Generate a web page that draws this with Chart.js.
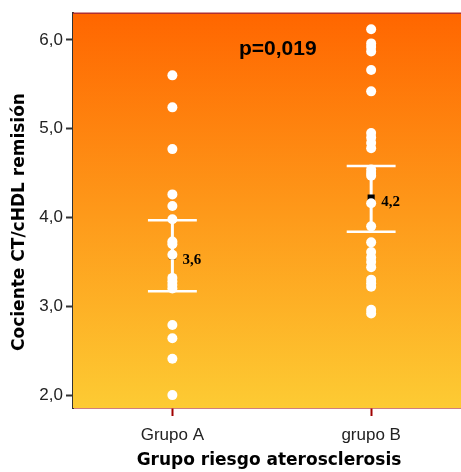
<!DOCTYPE html>
<html>
<head>
<meta charset="utf-8">
<script src="https://cdn.jsdelivr.net/npm/chart.js@4"></script>
<style>
  body { margin: 0; background: #fff; }
  canvas { display: block; }
</style>
</head>
<body>
<canvas id="ratioChart" width="461" height="472"></canvas>
<script>
const ctx = document.getElementById("ratioChart").getContext("2d");

// Individual CT/cHDL values per group
const categories = ['Grupo A', 'grupo B'];
const groupA = [5.60, 5.24, 4.77, 4.26, 4.13, 3.98, 3.73, 3.70, 3.58, 3.32, 3.28, 3.24, 3.20, 2.79, 2.64, 2.41, 2.00];
const groupB = [6.12, 5.96, 5.92, 5.87, 5.66, 5.42, 4.95, 4.90, 4.84, 4.78, 4.54, 4.50, 4.47, 4.16, 3.90, 3.72, 3.61, 3.55, 3.50, 3.44, 3.30, 3.26, 3.22, 2.96, 2.92];

// Mean and 95% CI per group
const means = [3.57, 4.22];
const ciLow = [3.17, 3.84];
const ciHigh = [3.97, 4.58];

const yTicks = [2, 3, 4, 5, 6];
const pValueText = 'p=0,019';
const xTitle = 'Grupo riesgo aterosclerosis';
const yTitle = 'Cociente CT/cHDL remisión';

const capHalf = 0.123;
const fmt = v => v.toFixed(1).replace('.', ',');

const pointData = [];
groupA.forEach(v => pointData.push({ x: 1, y: v }));
groupB.forEach(v => pointData.push({ x: 2, y: v }));

const errorSets = [];
means.forEach((m, i) => {
    const x = i + 1;
    const segs = [
        [{ x: x, y: ciLow[i] }, { x: x, y: ciHigh[i] }],
        [{ x: x - capHalf, y: ciHigh[i] }, { x: x + capHalf, y: ciHigh[i] }],
        [{ x: x - capHalf, y: ciLow[i] }, { x: x + capHalf, y: ciLow[i] }]
    ];
    segs.forEach((seg, k) => {
        errorSets.push({
            type: 'line',
            data: seg,
            borderColor: '#ffffff',
            borderWidth: k === 0 ? 3 : 2.5,
            pointRadius: 0,
            fill: false,
            order: 3
        });
    });
});

// gradient background, top frame line, titles and labels
const decorations = {
    id: 'decorations',
    beforeDatasetsDraw(chart) {
        const { ctx, chartArea: a } = chart;
        const g = ctx.createLinearGradient(0, a.top, 0, a.bottom);
        g.addColorStop(0, '#ff6600');
        g.addColorStop(1, '#fdcb33');
        ctx.save();
        ctx.fillStyle = g;
        ctx.fillRect(a.left, a.top, a.right - a.left, a.bottom - a.top);
        ctx.restore();
    },
    afterDraw(chart) {
        const { ctx, chartArea: a, scales } = chart;
        ctx.save();
        ctx.strokeStyle = '#b03030';
        ctx.lineWidth = 1.5;
        ctx.beginPath();
        ctx.moveTo(a.left, a.top);
        ctx.lineTo(a.right, a.top);
        ctx.stroke();

        ctx.fillStyle = '#000';
        ctx.textBaseline = 'middle';
        ctx.textAlign = 'left';
        ctx.font = 'bold 15px "Liberation Serif"';
        means.forEach((m, i) => {
            const px = scales.x.getPixelForValue(i + 1);
            const py = scales.y.getPixelForValue(m);
            ctx.fillText(fmt(m), px + 10, py + 4);
        });

        ctx.font = 'bold 21px "Liberation Sans"';
        ctx.textAlign = 'center';
        ctx.fillText(pValueText, scales.x.getPixelForValue(1.53), scales.y.getPixelForValue(5.89));

        // axis titles
        ctx.font = 'bold 17px "DejaVu Sans"';
        ctx.fillText(xTitle, 269, 461);
        ctx.translate(20, 222);
        ctx.rotate(-Math.PI / 2);
        ctx.fillText(yTitle, 0, 0);
        ctx.restore();
    }
};

const chart = new Chart(ctx, {
    type: 'scatter',
    data: {
        datasets: [
            {
                label: 'Media',
                data: means.map((m, i) => ({ x: i + 1, y: m })),
                pointStyle: 'rect',
                pointRadius: 5,
                backgroundColor: '#000',
                borderWidth: 0,
                order: 2
            },
            {
                label: 'Valores',
                data: pointData,
                pointRadius: 5,
                backgroundColor: '#ffffff',
                borderWidth: 0,
                order: 1
            },
            ...errorSets
        ]
    },
    options: {
        responsive: false,
        animation: false,
        layout: { autoPadding: false, padding: { top: 10, left: 0, right: 0, bottom: 0 } },
        scales: {
            x: {
                type: 'linear',
                min: 0.5,
                max: 2.452,
                afterFit: s => { s.height = 64; s.paddingLeft = 0; s.paddingRight = 0; },
                afterBuildTicks: s => { s.ticks = [{ value: 1 }, { value: 2 }]; },
                grid: {
                    drawOnChartArea: false,
                    tickLength: 8,
                    tickColor: '#a00000',
                    tickWidth: 2
                },
                border: { color: '#a00000', width: 1.5 },
                ticks: {
                    color: '#222',
                    padding: 9,
                    font: { family: 'Liberation Sans', size: 17 },
                    callback: v => categories[v - 1]
                }
            },
            y: {
                min: 1.855,
                max: 6.30,
                afterFit: s => { s.width = 73; },
                afterBuildTicks: s => { s.ticks = yTicks.map(v => ({ value: v })); },
                grid: {
                    drawOnChartArea: false,
                    tickLength: 7,
                    tickColor: '#333',
                    tickWidth: 2
                },
                border: { color: '#333', width: 2 },
                ticks: {
                    color: '#222',
                    padding: 3,
                    font: { family: 'Liberation Sans', size: 17 },
                    callback: v => fmt(v)
                }
            }
        },
        plugins: {
            legend: { display: false },
            tooltip: { enabled: false }
        }
    },
    plugins: [decorations]
});
</script>
</body>
</html>
